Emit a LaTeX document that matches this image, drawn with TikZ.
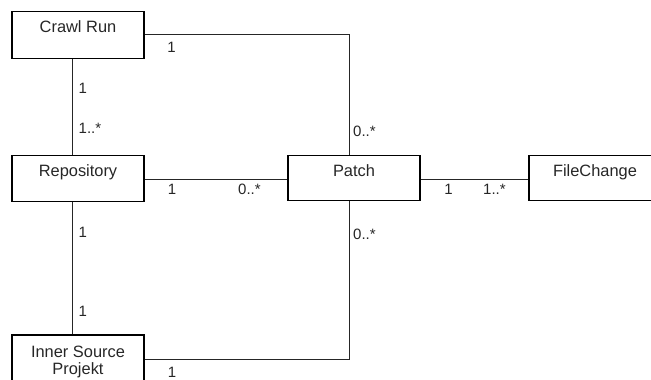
\documentclass[tikz,border=0pt]{standalone}
\usepackage{fontspec}
\setmainfont{Liberation Sans}
\begin{document}
\begin{tikzpicture}[x=1pt,y=-1pt,
  cls/.style={draw=black,line width=1.1pt,minimum width=132pt,inner sep=0pt,rectangle},
  cname/.style={inner sep=0pt,anchor=north,font=\fontsize{16.4}{18}\selectfont,text=black!85,align=center},
  mult/.style={inner sep=0pt,font=\fontsize{15}{17}\selectfont,text=black!85},
  assoc/.style={draw=black!85,line width=0.9pt}]
\useasboundingbox (0,0) rectangle (651,380);
% boxes
\node[cls,minimum height=46.5pt] (cr) at (78,35) {};
\node[cls,minimum height=46.5pt] (repo) at (78,178.5) {};
\node[cls,minimum height=45pt] (patch) at (354,178.2) {};
\node[cls,minimum height=45pt] (fc) at (595,178.2) {};
\node[cls,minimum height=60pt] (isp) at (78,365) {};
% names
\node[cname] (crt) at (78,20.5) {Crawl Run};
\node[cname] (repot) at (78,164) {Repository};
\node[cname] (patcht) at (354,164) {Patch};
\node[cname] (fct) at (595,164) {FileChange};
\node[cname,font=\fontsize{16.4}{17.5}\selectfont] (ispt) at (78,345.5) {Inner Source\\Projekt};
% connector points
\coordinate (c1) at (349,34.5);
\coordinate (c2) at (349,359);
% associations
\draw[assoc] (cr.east |- c1) -- (c1) -- (c1 |- patch.north);
\draw[assoc] (72.7,0 |- cr.south) coordinate (a1) -- (a1 |- repo.north);
\draw[assoc] (repo.east |- 0,179.3) coordinate (a2) -- (a2 -| patch.west);
\draw[assoc] (patch.east |- 0,179.3) coordinate (a3) -- (a3 -| fc.west);
\draw[assoc] (72.7,0 |- repo.south) coordinate (a4) -- (a4 |- isp.north);
\draw[assoc] (isp.east |- c2) -- (c2) -- (c2 |- patch.south);
% multiplicities
\node[mult] (m1) at (171.5,47) {1};
\node[mult,anchor=west] (m2) at (353,131) {0..*};
\node[mult,anchor=west] (m3) at (78.5,88) {1};
\node[mult,anchor=west] (m4) at (78.5,128) {1..*};
\node[mult] (m5) at (172,189) {1};
\node[mult,anchor=west] (m6) at (238,189) {0..*};
\node[mult] (m7) at (448.5,189) {1};
\node[mult,anchor=west] (m8) at (483,189) {1..*};
\node[mult,anchor=west] (m9) at (353,234) {0..*};
\node[mult,anchor=west] (m10) at (78.5,232) {1};
\node[mult,anchor=west] (m11) at (78.5,311) {1};
\node[mult] (m12) at (172,372) {1};
\end{tikzpicture}
\end{document}
